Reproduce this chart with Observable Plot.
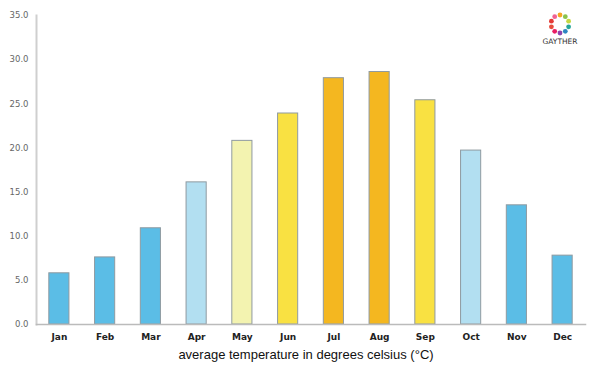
<!DOCTYPE html>
<html>
<head>
<meta charset="utf-8">
<script src="https://cdn.jsdelivr.net/npm/d3@7"></script>
<script src="https://cdn.jsdelivr.net/npm/@observablehq/plot@0.6"></script>
<style>
  html, body { margin: 0; padding: 0; background: #fff; }
  #wrap { position: relative; width: 600px; height: 375px; }
  #logo { position: absolute; left: 536px; top: 8px; }
</style>
</head>
<body>
<div id="wrap"></div>
<script>
const months = ["Jan","Feb","Mar","Apr","May","Jun","Jul","Aug","Sep","Oct","Nov","Dec"];
const temps = [5.8, 7.6, 10.9, 16.1, 20.8, 23.9, 27.9, 28.6, 25.4, 19.7, 13.5, 7.8];
const bands = ["cold","cold","cold","cool","mild","warm","hot","hot","warm","cool","cold","cold"];
const bandNames = ["cold","cool","mild","warm","hot"];
const yTicks = [0, 5, 10, 15, 20, 25, 30, 35];
const caption = "average temperature in degrees celsius (°C)";

const data = months.map((m, i) => ({month: m, temp: temps[i], band: bands[i]}));

const chart = Plot.plot({
  width: 600,
  height: 375,
  marginLeft: 36,
  marginRight: 15,
  marginTop: 15,
  marginBottom: 51,
  style: {fontFamily: "'DejaVu Sans', sans-serif", background: "#fff"},
  x: {domain: months, paddingInner: 0.56, paddingOuter: 0.28, round: false, label: null, axis: null},
  y: {domain: [0, 35], label: null, axis: null},
  color: {domain: bandNames, range: ["#5bbde6", "#b2dff1", "#f3f3b0", "#f9e142", "#f4b720"]},
  marks: [
    Plot.barY(data, {x: "month", y: "temp", fill: "band", stroke: "#8f9aa0", strokeWidth: 1}),
    Plot.axisY(yTicks, {tickSize: 0, tickPadding: 8, tickFormat: d => d.toFixed(1), fill: "#666", fontSize: 8.5}),
    Plot.axisX({tickSize: 0, tickPadding: 9, fill: "#222", fontSize: 9, fontWeight: "bold"}),
    Plot.frame({anchor: "left", stroke: "#cfcfcf", strokeWidth: 2}),
    Plot.frame({anchor: "bottom", stroke: "#bbbbbb", strokeWidth: 1.5}),
    Plot.text([caption], {frameAnchor: "bottom", dy: 34, dx: -5, fontSize: 13, fill: "#111", fontFamily: "'Liberation Sans', Arial, sans-serif"})
  ]
});
document.getElementById("wrap").appendChild(chart);

// logo
const logo = document.createElementNS("http://www.w3.org/2000/svg", "svg");
logo.setAttribute("id", "logo");
logo.setAttribute("width", "48");
logo.setAttribute("height", "40");
const logoColors = ["#f5a623","#8bc34a","#c6d843","#26a69a","#2e86c1","#8e44ad","#e91e63","#e74c3c","#e53935","#f06292"];
let s = "";
logoColors.forEach((c, i) => {
  const a = -Math.PI/2 + i * 2 * Math.PI / logoColors.length;
  const cx = 24 + 9 * Math.cos(a), cy = 16 + 9 * Math.sin(a);
  s += `<circle cx="${cx.toFixed(1)}" cy="${cy.toFixed(1)}" r="2.4" fill="${c}"/>`;
});
s += `<text x="24" y="36" text-anchor="middle" font-size="7.5" font-family="'DejaVu Sans', sans-serif" fill="#333">GAYTHER</text>`;
logo.innerHTML = s;
document.getElementById("wrap").appendChild(logo);
</script>
</body>
</html>
